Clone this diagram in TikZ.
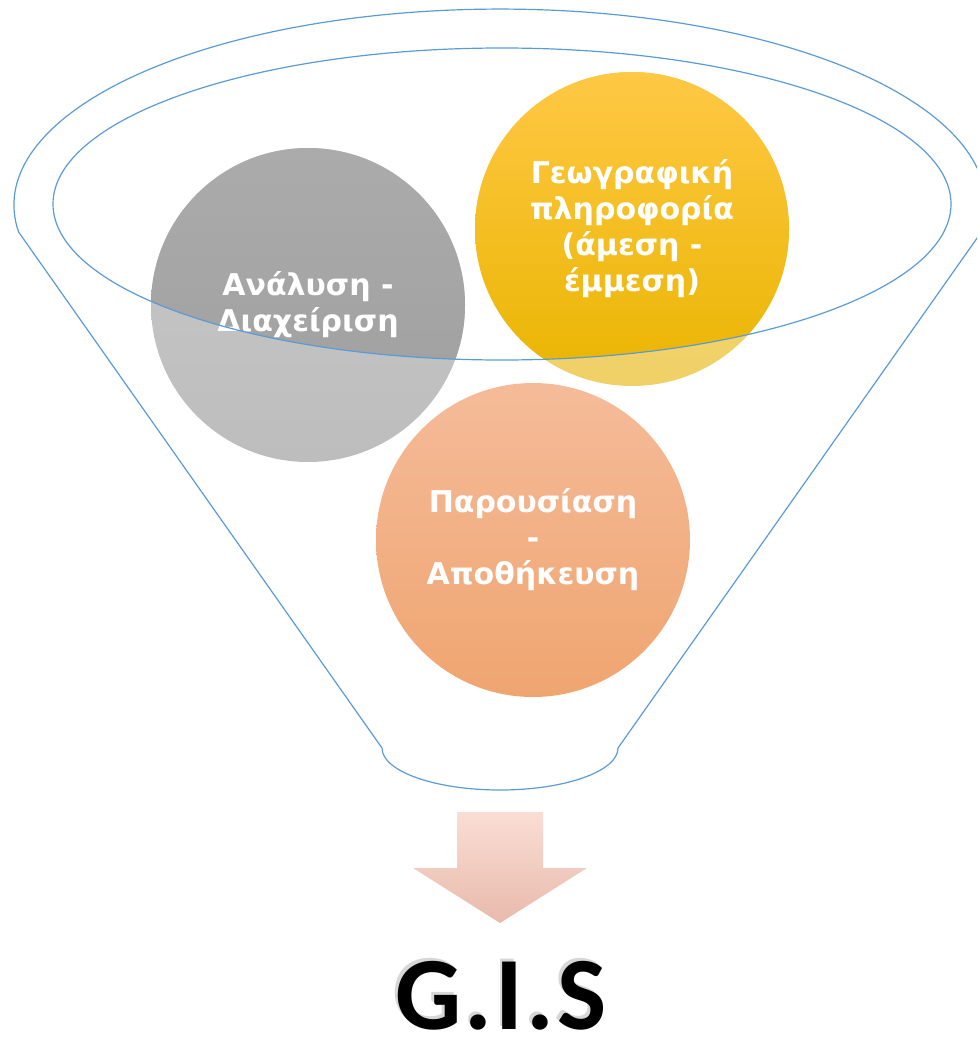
\documentclass[tikz,border=0pt]{standalone}
\usepackage{fontspec}
\newfontfamily\grfont{DejaVu Sans}
\newfontfamily\gisfont{Carlito}[LetterSpace=3]
\definecolor{funnelblue}{HTML}{5B9BD5}
\definecolor{greyLtTop}{HTML}{C8C8C8}
\definecolor{greyLtBot}{HTML}{BDBDBD}
\definecolor{greyDkTop}{HTML}{ABABAB}
\definecolor{greyDkMid}{HTML}{A6A6A6}
\definecolor{greyDkBot}{HTML}{9E9E9E}
\definecolor{yelLtTop}{HTML}{F3D670}
\definecolor{yelLtBot}{HTML}{F0D168}
\definecolor{yelDkTop}{HTML}{FFC845}
\definecolor{yelDkMid}{HTML}{FFC000}
\definecolor{yelDkBot}{HTML}{E9B500}
\definecolor{orTop}{HTML}{F5BB99}
\definecolor{orBot}{HTML}{EFA570}
\definecolor{arrTop}{HTML}{FADDD4}
\definecolor{arrBot}{HTML}{E8BAAC}
\begin{document}
\begin{tikzpicture}[x=1pt,y=1pt,
  ball/.style={circle, minimum size=314pt, inner sep=0pt, align=center,
    text=white, font=\grfont\bfseries\fontsize{30}{36}\selectfont},
  insidepart/.style n args={3}{path picture={
      \begin{scope}
        \clip (ec) ellipse [x radius=449pt, y radius=156pt];
        \shade[top color=#1, middle color=#2, bottom color=#3]
          (path picture bounding box.south west) rectangle
          (path picture bounding box.north east);
      \end{scope}}},
  funnelline/.style={draw=funnelblue, line width=1.2pt},
  gistext/.style={font=\gisfont\bfseries\fontsize{104}{104}\selectfont,
    anchor=base, inner sep=0pt}
]
\useasboundingbox (0,0) rectangle (977,-1041);
\clip (0,0) rectangle (977,-1041);
\coordinate (ec) at (502,-204);

% circles
\node[ball, top color=greyLtTop, bottom color=greyLtBot,
      insidepart={greyDkTop}{greyDkMid}{greyDkBot}] (ana) at (308,-305)
      {Ανάλυση -\\Διαχείριση};
\node[ball, top color=yelLtTop, bottom color=yelLtBot,
      insidepart={yelDkTop}{yelDkMid}{yelDkBot}] (geo) at (632,-229)
      {Γεωγραφική\\πληροφορία\\(άμεση -\\έμμεση)};
\node[ball, top color=orTop, bottom color=orBot] (par) at (533,-540)
      {Παρουσίαση\\-\\Αποθήκευση};

% funnel
\draw[funnelline] (ec) ellipse [x radius=449, y radius=156];
\draw[funnelline] (18.6,-232)
   arc[start angle=187.9, end angle=-7.9, x radius=486, y radius=196]
   -- (618,-748)
   arc[start angle=0, end angle=-180, x radius=118, y radius=42]
   -- cycle;

% arrow
\shade[top color=arrTop, bottom color=arrBot]
  (457,-812) -- (543,-812) -- (543,-868) -- (587,-868) -- (500,-923)
  -- (413,-868) -- (457,-868) -- cycle;

% G.I.S with soft shadow
\node[gistext, text=black!45, opacity=0.35] (gisshadow) at (498.5,-1026.5) {G.I.S};
\node[gistext, text=black] (gis) at (501,-1029) {G.I.S};
\end{tikzpicture}
\end{document}
